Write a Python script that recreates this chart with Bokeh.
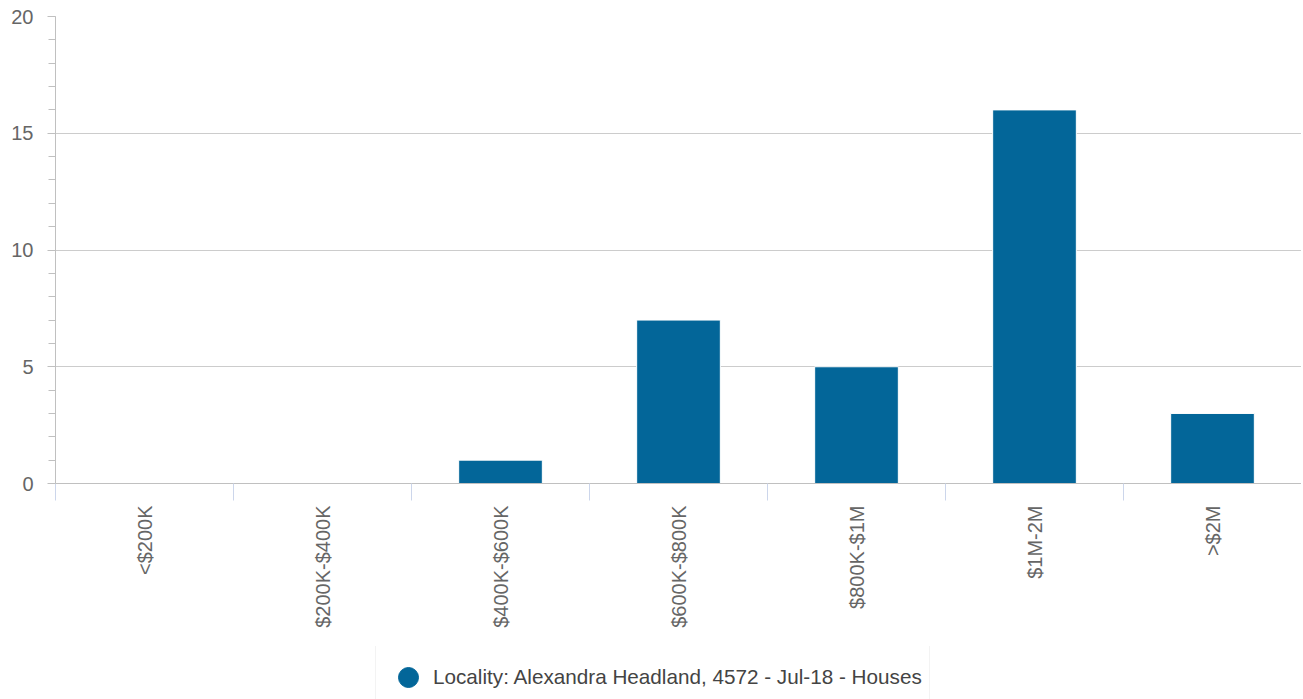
import math
from bokeh.plotting import figure
from bokeh.layouts import column
from bokeh.models import Range1d, FixedTicker, Legend, LegendItem, ColumnDataSource
from bokeh.embed import file_html
from bokeh.resources import INLINE

categories = ["<$200K", "$200K-$400K", "$400K-$600K", "$600K-$800K", "$800K-$1M", "$1M-2M", ">$2M"]
values = [0, 0, 1, 7, 5, 16, 3]
series_name = "Locality: Alexandra Headland, 4572 - Jul-18 - Houses"
y_ticks = [0, 5, 10, 15, 20]

FONT = "Liberation Sans"
BAR = "#036699"

n = len(categories)
xs = [i + 0.5 for i in range(n)]

p = figure(frame_width=1246, frame_height=467, output_backend="svg", toolbar_location=None,
           x_range=Range1d(0, n), y_range=Range1d(0, 20),
           min_border_left=55, min_border_top=16, min_border_right=0, min_border_bottom=163)
p.outline_line_color = None
p.background_fill_color = "white"

src = ColumnDataSource(dict(x=xs, top=values))
p.vbar(x="x", top="top", bottom=0, width=0.47, source=src,
       fill_color=BAR, line_color="#ffffff", line_width=1)

# y axis
ya = p.yaxis[0]
ya.ticker = FixedTicker(ticks=y_ticks, minor_ticks=list(range(0, 21)))
ya.axis_line_color = "#c0c0c0"
ya.major_tick_line_color = "#c0c0c0"
ya.minor_tick_line_color = "#c0c0c0"
ya.major_tick_out = 8
ya.major_tick_in = 0
ya.minor_tick_out = 7
ya.minor_tick_in = 0
ya.major_label_standoff = 14
ya.major_label_text_font = FONT
ya.major_label_text_font_size = "20px"
ya.major_label_text_color = "#666666"

# x axis
xa = p.xaxis[0]
xa.ticker = FixedTicker(ticks=xs, minor_ticks=list(range(0, n + 1)))
xa.major_label_overrides = {x: c for x, c in zip(xs, categories)}
xa.major_label_orientation = math.pi / 2
xa.axis_line_color = "#c0c0c0"
xa.major_tick_line_color = None
xa.major_tick_out = 0
xa.major_tick_in = 0
xa.minor_tick_line_color = "#ccd6eb"
xa.minor_tick_out = 17
xa.minor_tick_in = 0
xa.major_label_standoff = 5
xa.major_label_text_font = FONT
xa.major_label_text_font_size = "20px"
xa.major_label_text_color = "#666666"

p.xgrid.grid_line_color = None
p.ygrid.ticker = FixedTicker(ticks=y_ticks)
p.ygrid.grid_line_color = "#cccccc"

# legend strip below the chart
leg = figure(width=1301, height=53, output_backend="svg", toolbar_location=None,
             x_range=Range1d(0, 1), y_range=Range1d(0, 1),
             x_axis_type=None, y_axis_type=None,
             min_border_left=0, min_border_right=0, min_border_top=0, min_border_bottom=0)
leg.outline_line_color = None
leg.grid.visible = False
dot = leg.scatter(x=[float("nan")], y=[float("nan")], marker="circle", size=20,
                  fill_color=BAR, line_color=BAR)
legend = Legend(items=[LegendItem(label=series_name, renderers=[dot])],
                location=(320, -11), orientation="horizontal",
                label_text_font=FONT, label_text_font_size="20.7px",
                label_text_color="#444444",
                glyph_width=50, glyph_height=50,
                border_line_color="#e8e8e8", border_line_width=1,
                background_fill_color="white",
                padding=7, margin=0, spacing=0, label_standoff=0)
leg.add_layout(legend, "center")

layout = column(p, leg, spacing=0)
html = file_html(layout, INLINE)
open("out.html", "w").write(html)
